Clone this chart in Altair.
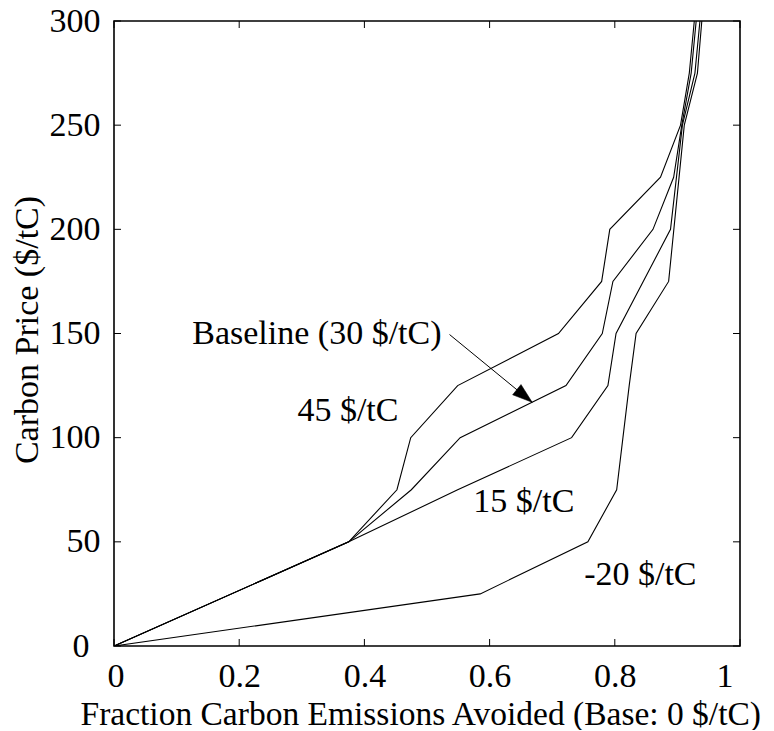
import math
import altair as alt
import pandas as pd

# ---------------- data ----------------
series_names = ["45 $/tC", "Baseline (30 $/tC)", "15 $/tC", "-20 $/tC"]

x_45 = [0, 0.375, 0.452, 0.474, 0.549, 0.710, 0.779, 0.792, 0.873, 0.905, 0.919, 0.927]
y_45 = [0, 50, 75, 100, 125, 150, 175, 200, 225, 250, 275, 300]

x_30 = [0, 0.375, 0.475, 0.553, 0.722, 0.780, 0.797, 0.861, 0.894, 0.907, 0.922, 0.930]
y_30 = [0, 50, 75, 100, 125, 150, 175, 200, 225, 250, 275, 300]

x_15 = [0, 0.375, 0.549, 0.731, 0.789, 0.802, 0.889, 0.908, 0.928, 0.936]
y_15 = [0, 50, 75, 100, 125, 150, 200, 250, 275, 300]

x_m20 = [0, 0.585, 0.757, 0.803, 0.813, 0.823, 0.834, 0.886, 0.911, 0.932, 0.939]
y_m20 = [0, 25, 50, 75, 100, 125, 150, 175, 250, 275, 300]

x_ticks = [0, 0.2, 0.4, 0.6, 0.8, 1.0]
y_ticks = [0, 50, 100, 150, 200, 250, 300]

label_texts = ["Baseline (30 $/tC)", "45 $/tC", "15 $/tC", "-20 $/tC"]
label_x = [0.125, 0.293, 0.574, 0.751]
label_y = [150, 112.7, 69.3, 34.3]

arrow_x = [0.536, 0.668]
arrow_y = [149.5, 117.0]

x_title = "Fraction Carbon Emissions Avoided (Base: 0 $/tC)"
y_title = "Carbon Price ($/tC)"

# ---------------- layout ----------------
W, H = 626, 625
FONT = "Liberation Serif"

rows = []
for name, xs, ys in zip(series_names, [x_45, x_30, x_15, x_m20], [y_45, y_30, y_15, y_m20]):
    for i, (xv, yv) in enumerate(zip(xs, ys)):
        rows.append({"series": name, "idx": i, "x": xv, "y": yv})
df = pd.DataFrame(rows)

xscale = alt.Scale(domain=[0, 1], nice=False, zero=False)
yscale = alt.Scale(domain=[0, 300], nice=False, zero=False)

x_axis = alt.Axis(
    values=x_ticks, format="~g", title=x_title, ticks=False, domain=False, grid=False,
    labelPadding=13, labelFontSize=34, labelFont=FONT, labelColor="black",
    labelOffset={"condition": {"test": "datum.value == 0 || datum.value == 1", "value": -7}, "value": 0},
    titleFontSize=33.5, titleFont=FONT, titleColor="black", titleFontWeight="normal",
    titleX=-34, titleY=78, titleAlign="left", titleBaseline="alphabetic", titleAngle=0,
)
y_axis = alt.Axis(
    values=y_ticks, format="d", title=y_title, ticks=False, domain=False, grid=False,
    labelFontSize=34, labelFont=FONT, labelColor="black",
    labelPadding={"condition": {"test": "datum.value == 0", "value": 25}, "value": 14},
    titleFontSize=34, titleFont=FONT, titleColor="black", titleFontWeight="normal",
    titleX=-87, titleY=H / 2 - 4, titleAlign="center", titleBaseline="middle", titleAngle=270,
)

X = alt.X("x:Q", scale=xscale, axis=x_axis, title=x_title)
Y = alt.Y("y:Q", scale=yscale, axis=y_axis, title=y_title)

lines = alt.Chart(df).mark_line(color="black", strokeWidth=1.1, clip=True).encode(
    x=X, y=Y, detail="series:N", order="idx:Q",
)

xt = pd.DataFrame({"x": x_ticks})
yt = pd.DataFrame({"y": y_ticks})
tick_len = 7
bottom_ticks = alt.Chart(xt).mark_rule(color="black", strokeWidth=1).encode(
    x=X, y=alt.value(H), y2=alt.value(H - tick_len))
top_ticks = alt.Chart(xt).mark_rule(color="black", strokeWidth=1).encode(
    x=X, y=alt.value(0), y2=alt.value(tick_len))
left_ticks = alt.Chart(yt).mark_rule(color="black", strokeWidth=1).encode(
    y=Y, x=alt.value(0), x2=alt.value(tick_len))
right_ticks = alt.Chart(yt).mark_rule(color="black", strokeWidth=1).encode(
    y=Y, x=alt.value(W), x2=alt.value(W - tick_len))

labels_df = pd.DataFrame({"x": label_x, "y": label_y, "t": label_texts})
labels = alt.Chart(labels_df).mark_text(
    align="left", baseline="middle", font=FONT, fontSize=34, color="black"
).encode(x=X, y=Y, text="t:N")

arrow_df = pd.DataFrame({"x": arrow_x, "y": arrow_y, "i": [0, 1]})
arrow_line = alt.Chart(arrow_df).mark_line(color="black", strokeWidth=1).encode(
    x=X, y=Y, order="i:Q")

dx_px = (arrow_x[1] - arrow_x[0]) * W
dy_px = (arrow_y[0] - arrow_y[1]) * H / 300.0
head_angle = math.degrees(math.atan2(dy_px, dx_px)) + 90
head_df = pd.DataFrame({"x": [arrow_x[1]], "y": [arrow_y[1]]})
arrow_head = alt.Chart(head_df).mark_point(
    shape="M0,0L0.5,1.5L-0.5,1.5Z", filled=True, size=700, angle=head_angle,
    fill="black", stroke="black", opacity=1, strokeWidth=0.5,
).encode(x=X, y=Y)

chart = alt.layer(
    lines, bottom_ticks, top_ticks, left_ticks, right_ticks, labels, arrow_line, arrow_head
).properties(
    width=W, height=H,
    autosize=alt.AutoSizeParams(type="none"),
    padding={"left": 106, "top": 13, "right": 26, "bottom": 84},
    background="white",
).configure_view(
    stroke="black", strokeWidth=1.6
)

chart.save("out.html", embed_options={"renderer": "svg", "actions": False})
